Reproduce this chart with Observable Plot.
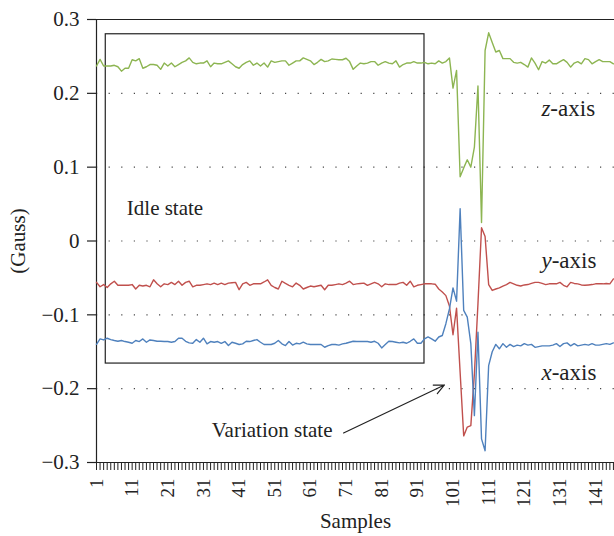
<!DOCTYPE html>
<html>
<head>
<meta charset="utf-8">
<script src="https://cdn.jsdelivr.net/npm/d3@7"></script>
<script src="https://cdn.jsdelivr.net/npm/@observablehq/plot@0.6"></script>
<style>
  html, body { margin: 0; padding: 0; background: #fff; }
  #chart { width: 614px; height: 536px; }
</style>
</head>
<body>
<div id="chart"></div>
<script>
// ---------- data ----------
const samples = d3.range(1, 147);

const zAxis = [
  0.237, 0.246, 0.237, 0.237, 0.237, 0.238, 0.236, 0.230, 0.234, 0.234,
  0.2455, 0.244, 0.247, 0.234, 0.236, 0.239, 0.239, 0.238, 0.2325, 0.241,
  0.237, 0.241, 0.236, 0.239, 0.242, 0.244, 0.248, 0.242, 0.240, 0.241,
  0.241, 0.244, 0.236, 0.241, 0.240, 0.240, 0.242, 0.244, 0.240, 0.236,
  0.234, 0.239, 0.242, 0.244, 0.238, 0.241, 0.237, 0.241, 0.2355, 0.244,
  0.242, 0.243, 0.244, 0.244, 0.238, 0.241, 0.244, 0.244, 0.248, 0.246,
  0.244, 0.239, 0.242, 0.246, 0.243, 0.244, 0.2465, 0.246, 0.2455, 0.2455,
  0.2475, 0.243, 0.2325, 0.237, 0.241, 0.240, 0.241, 0.243, 0.243, 0.238,
  0.241, 0.243, 0.241, 0.240, 0.244, 0.2355, 0.239, 0.241, 0.241, 0.243,
  0.241, 0.241, 0.242, 0.240, 0.241, 0.240, 0.244, 0.241, 0.243, 0.248,
  0.207, 0.231, 0.087, 0.099, 0.110, 0.100, 0.127, 0.210, 0.025, 0.258,
  0.282, 0.269, 0.256, 0.258, 0.247, 0.247, 0.247, 0.242, 0.241, 0.242,
  0.239, 0.2355, 0.248, 0.241, 0.232, 0.243, 0.241, 0.245, 0.240, 0.240,
  0.243, 0.2456, 0.242, 0.2355, 0.241, 0.243, 0.240, 0.247, 0.2456, 0.240,
  0.243, 0.2456, 0.243, 0.243, 0.243, 0.240
];

const yAxis = [
  -0.056, -0.062, -0.059, -0.063, -0.058, -0.0545, -0.060, -0.060, -0.060, -0.060,
  -0.059, -0.065, -0.060, -0.061, -0.060, -0.062, -0.0526, -0.058, -0.062, -0.058,
  -0.059, -0.056, -0.059, -0.0545, -0.060, -0.056, -0.0545, -0.062, -0.060, -0.060,
  -0.059, -0.058, -0.059, -0.057, -0.059, -0.057, -0.059, -0.057, -0.0565, -0.056,
  -0.066, -0.058, -0.056, -0.060, -0.058, -0.058, -0.058, -0.0555, -0.0526, -0.060,
  -0.063, -0.065, -0.0545, -0.0575, -0.060, -0.062, -0.057, -0.060, -0.065, -0.063,
  -0.061, -0.062, -0.061, -0.060, -0.066, -0.060, -0.060, -0.059, -0.058, -0.059,
  -0.057, -0.0545, -0.059, -0.058, -0.0575, -0.057, -0.060, -0.058, -0.056, -0.058,
  -0.062, -0.058, -0.059, -0.059, -0.059, -0.057, -0.056, -0.060, -0.0545, -0.062,
  -0.060, -0.059, -0.058, -0.058, -0.058, -0.0585, -0.065, -0.069, -0.074, -0.088,
  -0.127, -0.091, -0.178, -0.264, -0.252, -0.250, -0.180, -0.085, 0.018, 0.006,
  -0.059, -0.067, -0.065, -0.0635, -0.061, -0.059, -0.056, -0.058, -0.060, -0.061,
  -0.0595, -0.059, -0.0575, -0.056, -0.056, -0.0575, -0.059, -0.058, -0.058, -0.058,
  -0.056, -0.060, -0.062, -0.056, -0.0575, -0.058, -0.0595, -0.060, -0.0595, -0.059,
  -0.058, -0.058, -0.058, -0.0575, -0.058, -0.0513
];

const xAxis = [
  -0.140, -0.1326, -0.134, -0.1317, -0.1335, -0.1348, -0.1358, -0.1348, -0.1362, -0.1371,
  -0.1385, -0.1348, -0.1362, -0.1326, -0.1371, -0.134, -0.1348, -0.1358, -0.1358, -0.1362,
  -0.1362, -0.1371, -0.1362, -0.1317, -0.1317, -0.1358, -0.138, -0.1385, -0.1335, -0.1371,
  -0.1317, -0.1393, -0.1362, -0.1371, -0.1362, -0.1385, -0.1362, -0.1416, -0.1371, -0.1385,
  -0.1402, -0.1393, -0.1358, -0.1362, -0.1348, -0.1335, -0.1371, -0.1402, -0.1402, -0.1402,
  -0.1385, -0.1348, -0.1393, -0.1416, -0.1362, -0.141, -0.1385, -0.1393, -0.1371, -0.1393,
  -0.1402, -0.1402, -0.1402, -0.1402, -0.1439, -0.1416, -0.1402, -0.1402, -0.141, -0.1393,
  -0.1385, -0.1371, -0.1358, -0.1362, -0.1362, -0.1362, -0.1362, -0.1371, -0.1358, -0.1385,
  -0.1448, -0.1402, -0.1358, -0.1362, -0.1371, -0.138, -0.1371, -0.1385, -0.1358, -0.1326,
  -0.1385, -0.1385, -0.1326, -0.130, -0.1326, -0.1357, -0.130, -0.128, -0.112, -0.092,
  -0.0635, -0.0815, 0.0436, -0.094, -0.1032, -0.139, -0.2365, -0.1235, -0.268, -0.284,
  -0.1687, -0.150, -0.140, -0.146, -0.139, -0.144, -0.140, -0.143, -0.141, -0.142,
  -0.139, -0.141, -0.140, -0.144, -0.143, -0.142, -0.142, -0.142, -0.141, -0.139,
  -0.143, -0.139, -0.138, -0.142, -0.139, -0.142, -0.141, -0.140, -0.141, -0.139,
  -0.141, -0.141, -0.140, -0.139, -0.140, -0.138
];

const yTicks = [-0.3, -0.2, -0.1, 0, 0.1, 0.2, 0.3];
const gridTicks = [-0.2, -0.1, 0, 0.1, 0.2];
const xLabelTicks = [1, 11, 21, 31, 41, 51, 61, 71, 81, 91, 101, 111, 121, 131, 141];

const seriesLabels = [
  {letter: "z", rest: "-axis", sample: 125.8, value: 0.179},
  {letter: "y", rest: "-axis", sample: 125.8, value: -0.026},
  {letter: "x", rest: "-axis", sample: 125.8, value: -0.178}
];
const idleBox = [{x1: 3.6, x2: 93.0, y1: -0.166, y2: 0.280}];
const idleLabel = [{sample: 9.5, value: 0.044, text: "Idle state"}];
const variationLabel = [{sample: 67.2, value: -0.257, text: "Variation state"}];
const variationArrow = [{x1: 70.3, y1: -0.260, x2: 98.6, y2: -0.195}];

// ---------- table ----------
const rows = (vals, name) => vals.map((v, i) => ({sample: samples[i], value: v, series: name}));
const zRows = rows(zAxis, "z");
const yRows = rows(yAxis, "y");
const xRows = rows(xAxis, "x");

const font = "'Liberation Serif', 'DejaVu Serif', serif";
const fmt = d => d === 0 ? "0" : (d < 0 ? "\u2212" : "") + Math.abs(d).toFixed(1);

const chart = Plot.plot({
  width: 614,
  height: 536,
  marginTop: 19,
  marginBottom: 74,
  marginLeft: 96,
  marginRight: 0,
  style: {fontFamily: font, fontSize: "21px", color: "#222", background: "#fff"},
  x: {domain: [1, 146.3]},
  y: {domain: [-0.3, 0.3]},
  marks: [
    Plot.gridY(gridTicks, {stroke: "#333", strokeOpacity: 0.9, strokeWidth: 1.2, strokeDasharray: "1.2,11.4"}),
    Plot.ruleY([0.3, -0.3], {stroke: "#222", strokeWidth: 1.2}),
    Plot.ruleX([1], {y1: -0.3, y2: 0.3, stroke: "#222", strokeWidth: 1.2}),
    Plot.axisY({ticks: yTicks, tickFormat: fmt, tickSize: 9, tickPadding: 8, label: null, stroke: "#222", strokeWidth: 1.2, fontSize: 21}),
    Plot.axisX({ticks: samples, tickSize: 8, text: null, label: null, stroke: "#222", strokeWidth: 1}),
    Plot.axisX({ticks: xLabelTicks, tickSize: 0, tickPadding: 16, tickRotate: -90, label: null, fontSize: 19}),
    Plot.text(["Samples"], {frameAnchor: "bottom", dy: 65, fontSize: 21}),
    Plot.text(["(Gauss)"], {frameAnchor: "left", textAnchor: "middle", dx: -78, rotate: -90, fontSize: 21}),
    Plot.rect(idleBox, {x1: "x1", x2: "x2", y1: "y1", y2: "y2", fill: "none", stroke: "#222", strokeWidth: 1.2}),
    Plot.text(idleLabel, {x: "sample", y: "value", text: "text", textAnchor: "start", fontSize: 21}),
    Plot.text(variationLabel, {x: "sample", y: "value", text: "text", textAnchor: "end", fontSize: 21}),
    Plot.arrow(variationArrow, {x1: "x1", y1: "y1", x2: "x2", y2: "y2", stroke: "#222", strokeWidth: 1.2, headLength: 14, headAngle: 50}),
    Plot.line(zRows, {x: "sample", y: "value", stroke: "#8db552", strokeWidth: 1.4}),
    Plot.line(yRows, {x: "sample", y: "value", stroke: "#c0504d", strokeWidth: 1.4}),
    Plot.line(xRows, {x: "sample", y: "value", stroke: "#4f81bd", strokeWidth: 1.4}),
    Plot.text(seriesLabels, {x: "sample", y: "value", text: d => d.letter + d.rest, textAnchor: "start", fontSize: 23, className: "series-label"})
  ]
});

// italicise the axis letter in the series labels
d3.select(chart).selectAll(".series-label text").each(function(d, i) {
  const lab = seriesLabels[i];
  const t = d3.select(this);
  t.text(null);
  t.append("tspan").attr("font-style", "italic").text(lab.letter);
  t.append("tspan").text(lab.rest);
});

document.getElementById("chart").appendChild(chart);
</script>
</body>
</html>
